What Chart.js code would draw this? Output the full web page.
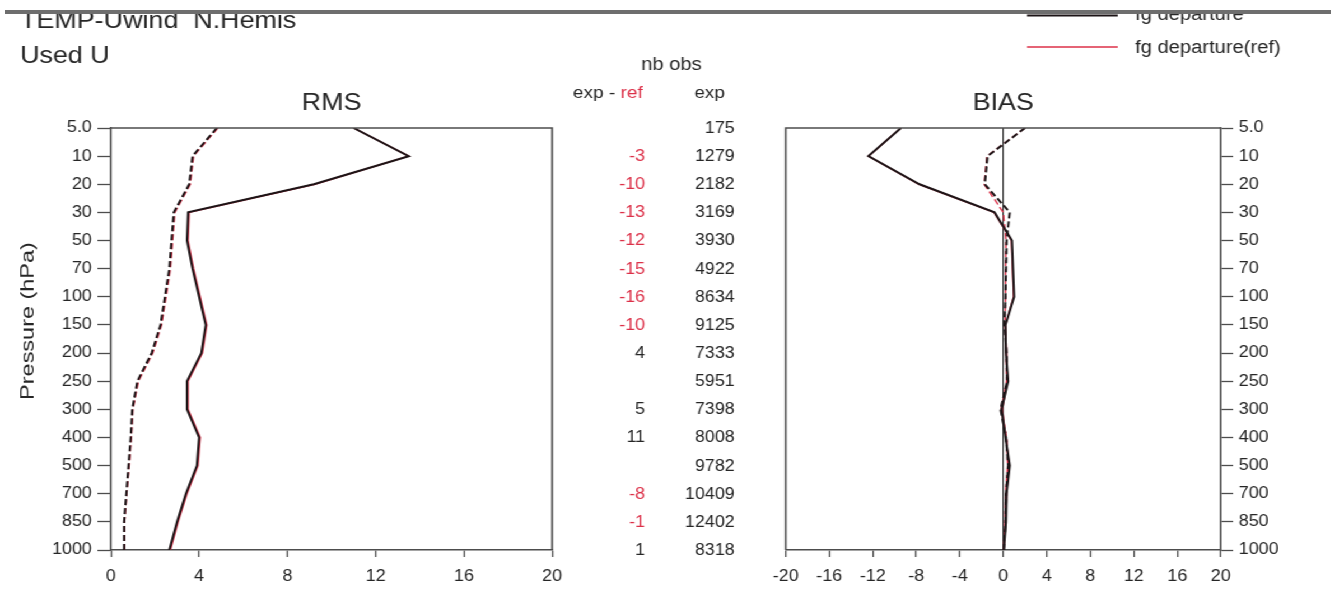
<!DOCTYPE html>
<html>
<head>
<meta charset="utf-8">
<script src="https://cdn.jsdelivr.net/npm/chart.js@4.4.1/dist/chart.umd.min.js"></script>
<style>
  html, body { margin: 0; padding: 0; background: #fff; overflow: hidden; }
  #page { position: absolute; left: 0; top: 0; width: 1331px; height: 598px; background: #fff; }
  #wrap { position: absolute; left: 0; top: 0; width: 1189px; height: 598px;
          transform: scaleX(1.12); transform-origin: 0 0; }
  #rms { position: absolute; left: 0; top: 0; }
  #bias { position: absolute; left: 680px; top: 0; }
  #capWhite { position: absolute; left: 0; top: 0; width: 1331px; height: 10px; background: #fff; }
  #capBar { position: absolute; left: 5px; top: 10px; width: 1326px; height: 3.5px; background: #6e6e6e; }
</style>
</head>
<body>
<div id="page">
  <div id="wrap">
    <canvas id="rms" width="680" height="598"></canvas>
    <canvas id="bias" width="509" height="598"></canvas>
  </div>
  <div id="capWhite"></div>
  <div id="capBar"></div>
</div>
<script>
// Pressure levels (hPa), top of the profile first
const levels = ['5.0', '10', '20', '30', '50', '70', '100', '150', '200', '250', '300', '400', '500', '700', '850', '1000'];

// RMS of departures (m/s)
const rmsFg    = [11.0, 13.5, 9.2, 3.5, 3.45, 3.7, 4.0, 4.3, 4.1, 3.45, 3.45, 4.0, 3.9, 3.4, 3.0, 2.65];
const rmsFgRef = [11.0, 13.5, 9.25, 3.55, 3.5, 3.75, 4.05, 4.35, 4.15, 3.5, 3.5, 4.05, 3.95, 3.45, 3.05, 2.7];
const rmsAn    = [4.8, 3.7, 3.55, 2.85, 2.75, 2.65, 2.45, 2.25, 1.85, 1.2, 0.97, 0.9, 0.8, 0.7, 0.6, 0.6];
const rmsAnRef = [4.85, 3.75, 3.6, 2.9, 2.8, 2.7, 2.5, 2.3, 1.9, 1.25, 1.0, 0.93, 0.83, 0.72, 0.62, 0.62];

// Mean departures (m/s)
const biasFg    = [-9.4, -12.4, -7.7, -0.8, 0.8, 0.9, 1.0, 0.2, 0.25, 0.45, -0.15, 0.2, 0.6, 0.3, 0.25, 0.05];
const biasFgRef = [-9.4, -12.4, -7.75, -0.85, 0.75, 0.85, 0.95, 0.2, 0.3, 0.4, -0.1, 0.25, 0.55, 0.3, 0.2, 0.05];
const biasAn    = [2.0, -1.45, -1.7, 0.6, 0.3, 0.25, 0.2, 0.1, 0.3, 0.35, -0.25, 0.25, 0.45, 0.25, 0.2, 0.05];
const biasAnRef = [2.0, -1.5, -1.75, 0.0, 0.25, 0.2, 0.2, 0.15, 0.25, 0.3, -0.2, 0.3, 0.4, 0.2, 0.15, 0.05];

// Number of observations used per level, and difference to the reference run
const nbObsExp  = [175, 1279, 2182, 3169, 3930, 4922, 8634, 9125, 7333, 5951, 7398, 8008, 9782, 10409, 12402, 8318];
const nbObsDiff = [null, -3, -10, -13, -12, -15, -16, -10, 4, null, 5, 11, null, -8, -1, 1];

// Axis ticks
const rmsTicks  = [0, 4, 8, 12, 16, 20];
const biasTicks = [-20, -16, -12, -8, -4, 0, 4, 8, 12, 16, 20];

const FONT = "'Liberation Sans', Arial, Helvetica, sans-serif";
const INK = '#1c1416';
const RED = '#dc3048';
const AXIS = '#4d4d4d';
const TXT = '#262626';

function profile(values) {
  return values.map((v, i) => ({ x: v, y: i }));
}

function series(values, color, dashed, width) {
  return {
    data: profile(values),
    borderColor: color,
    borderWidth: width,
    borderDash: dashed ? [6, 3] : [],
    pointRadius: 0,
    tension: 0,
    fill: false
  };
}

function yScale(position, width, tickLen) {
  return {
    type: 'linear',
    position: position,
    reverse: true,
    min: 0,
    max: levels.length - 1,
    afterFit: s => { s.width = width; },
    afterBuildTicks: s => { s.ticks = levels.map((_, i) => ({ value: i })); },
    ticks: {
      autoSkip: false,
      callback: v => levels[v],
      color: TXT,
      padding: 5,
      font: { family: FONT, size: 16 }
    },
    grid: { drawOnChartArea: false, drawTicks: true, tickLength: tickLen, tickColor: AXIS, tickWidth: 1.3 },
    border: { display: true, color: AXIS, width: 1.6 }
  };
}

function xScale(min, max, ticks, zeroLine) {
  return {
    type: 'linear',
    min: min,
    max: max,
    afterFit: s => { s.height = 48; },
    afterBuildTicks: s => { s.ticks = ticks.map(v => ({ value: v })); },
    ticks: {
      autoSkip: false,
      maxRotation: 0,
      color: TXT,
      padding: 10,
      font: { family: FONT, size: 16 }
    },
    grid: zeroLine ? {
      drawOnChartArea: true,
      drawTicks: true,
      tickLength: 7,
      lineWidth: 1.2,
      color: c => (c.tick && c.tick.value === 0) ? '#3a3a3a' : 'rgba(0,0,0,0)',
      tickColor: AXIS,
      tickWidth: 1.3
    } : {
      drawOnChartArea: false,
      drawTicks: true,
      tickLength: 7,
      tickColor: AXIS,
      tickWidth: 1.3
    },
    border: { display: true, color: AXIS, width: 1.6 }
  };
}

// Left panel: titles, RMS frame, axis title and the observation-count columns
const rmsDecor = {
  id: 'rmsDecor',
  afterDraw(chart) {
    const ctx = chart.ctx;
    const a = chart.chartArea;
    const y = chart.scales.y;
    ctx.save();
    ctx.strokeStyle = AXIS;
    ctx.lineWidth = 1.6;
    ctx.beginPath();
    ctx.moveTo(a.left, a.top);
    ctx.lineTo(a.right, a.top);
    ctx.lineTo(a.right, a.bottom);
    ctx.stroke();

    ctx.fillStyle = TXT;
    ctx.textBaseline = 'alphabetic';
    ctx.textAlign = 'left';
    ctx.font = '24px ' + FONT;
    ctx.fillText('TEMP-Uwind  N.Hemis', 17.9, 28);
    ctx.fillText('Used U', 17.9, 63);

    ctx.textAlign = 'center';
    ctx.fillText('RMS', (a.left + a.right) / 2, 110);

    // vertical axis title
    ctx.save();
    ctx.translate(25, 321);
    ctx.rotate(-Math.PI / 2);
    ctx.scale(1.38, 1);
    ctx.font = '17px ' + FONT;
    ctx.textAlign = 'center';
    ctx.textBaseline = 'middle';
    ctx.fillText('Pressure (hPa)', 0, 0);
    ctx.restore();

    // column headers
    ctx.font = '18px ' + FONT;
    ctx.textAlign = 'center';
    ctx.fillText('nb obs', 599.6, 70);
    ctx.font = '17px ' + FONT;
    ctx.textAlign = 'left';
    const head = 'exp - ';
    ctx.fillText(head, 511.6, 98);
    const w = ctx.measureText(head).width;
    ctx.fillStyle = RED;
    ctx.fillText('ref', 511.6 + w, 98);
    ctx.fillStyle = TXT;
    ctx.textAlign = 'right';
    ctx.fillText('exp', 647.3, 98);

    // per-level counts
    ctx.font = '16px ' + FONT;
    ctx.textBaseline = 'middle';
    ctx.textAlign = 'right';
    levels.forEach((_, i) => {
      const py = y.getPixelForValue(i) + 0.5;
      ctx.fillStyle = TXT;
      ctx.fillText(String(nbObsExp[i]), 656, py);
      const d = nbObsDiff[i];
      if (d !== null) {
        ctx.fillStyle = d < 0 ? RED : TXT;
        ctx.fillText(String(d), 576, py);
      }
    });
    ctx.restore();
  }
};

// Right panel: BIAS frame, title and legend
const biasDecor = {
  id: 'biasDecor',
  afterDraw(chart) {
    const ctx = chart.ctx;
    const a = chart.chartArea;
    ctx.save();
    ctx.strokeStyle = AXIS;
    ctx.lineWidth = 1.6;
    ctx.beginPath();
    ctx.moveTo(a.left, a.bottom);
    ctx.lineTo(a.left, a.top);
    ctx.lineTo(a.right, a.top);
    ctx.stroke();

    ctx.fillStyle = TXT;
    ctx.font = '24px ' + FONT;
    ctx.textAlign = 'center';
    ctx.textBaseline = 'alphabetic';
    ctx.fillText('BIAS', chart.scales.x.getPixelForValue(0), 110);

    // legend
    ctx.lineWidth = 2;
    ctx.strokeStyle = INK;
    ctx.beginPath();
    ctx.moveTo(237, 15.5);
    ctx.lineTo(318, 15.5);
    ctx.stroke();
    ctx.lineWidth = 1.5;
    ctx.strokeStyle = RED;
    ctx.beginPath();
    ctx.moveTo(237, 47);
    ctx.lineTo(318, 47);
    ctx.stroke();
    ctx.font = '18px ' + FONT;
    ctx.textAlign = 'left';
    ctx.fillText('fg departure', 333.4, 20);
    ctx.fillText('fg departure(ref)', 333.4, 53);
    ctx.restore();
  }
};

const common = {
  responsive: false,
  animation: false,
  devicePixelRatio: 1,
  events: [],
  plugins: { legend: { display: false }, tooltip: { enabled: false }, title: { display: false } }
};

new Chart(document.getElementById('rms'), {
  type: 'line',
  data: {
    datasets: [
      series(rmsFg, INK, false, 2),
      series(rmsAn, INK, true, 2),
      series(rmsFgRef, RED, false, 1.4),
      series(rmsAnRef, RED, true, 1.4)
    ]
  },
  options: Object.assign({}, common, {
    layout: { padding: { left: 0, right: 187, top: 128, bottom: 0 } },
    scales: {
      x: xScale(0, 20, rmsTicks, false),
      y: yScale('left', 99, 12)
    }
  }),
  plugins: [rmsDecor]
});

new Chart(document.getElementById('bias'), {
  type: 'line',
  data: {
    datasets: [
      series(biasFg, INK, false, 2),
      series(biasAn, INK, true, 2),
      series(biasFgRef, RED, false, 1.4),
      series(biasAnRef, RED, true, 1.4)
    ]
  },
  options: Object.assign({}, common, {
    layout: { padding: { left: 15, right: 0, top: 128, bottom: 0 } },
    scales: {
      x: xScale(-20, 20, biasTicks, true),
      y: yScale('right', 99, 11)
    }
  }),
  plugins: [biasDecor]
});
</script>
</body>
</html>
